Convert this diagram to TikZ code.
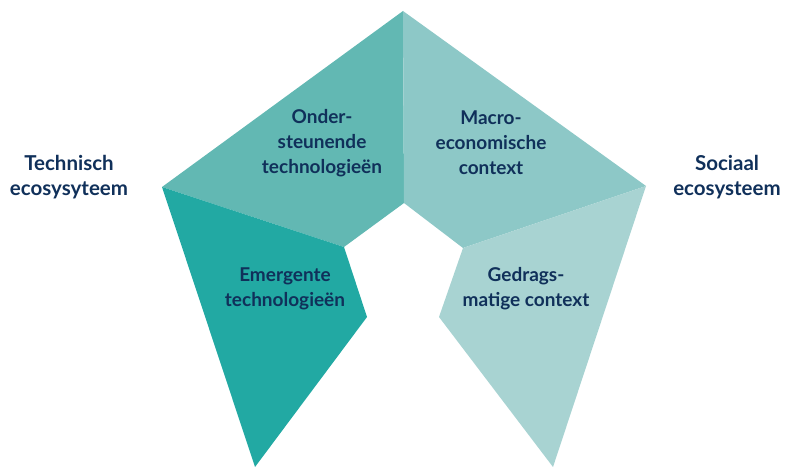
\documentclass[tikz,border=0pt]{standalone}
\usepackage{fontspec}
\setmainfont{Lato}
\definecolor{ulc}{HTML}{62B8B3}
\definecolor{llc}{HTML}{22A9A3}
\definecolor{urc}{HTML}{8DC8C7}
\definecolor{lrc}{HTML}{A8D3D2}
\definecolor{navy}{HTML}{10305A}
\begin{document}
\begin{tikzpicture}[x=1pt,y=-1pt,
  lbl/.style={align=center,text=navy,font=\bfseries\fontsize{19}{25}\selectfont,inner sep=0pt}]
\useasboundingbox (0,0) rectangle (791,468);
\coordinate (top) at (403,11);
\coordinate (L) at (162,187);
\coordinate (R) at (646,186);
\coordinate (C) at (404,203);
\coordinate (IL) at (344,247);
\coordinate (IR) at (463,248);
\coordinate (LR) at (367,317);
\coordinate (LB) at (255,467);
\coordinate (RL) at (439,317);
\coordinate (RB) at (553,467);
\fill[ulc] (top) -- (C) -- (IL) -- (L) -- cycle;
\fill[urc] (top) -- (R) -- (IR) -- (C) -- cycle;
\fill[llc] (L) -- (IL) -- (LR) -- (LB) -- cycle;
\fill[lrc] (R) -- (RB) -- (RL) -- (IR) -- cycle;
\node[lbl] (n1) at (322,143) {Onder-\\steunende\\technologieën};
\node[lbl] (n2) at (491,143) {Macro-\\economische\\context};
\node[lbl] (n3) at (285,288.5) {Emergente\\technologieën};
\node[lbl] (n4) at (526,288.5) {Gedrags-\\matige context};
\node[lbl,font=\bfseries\fontsize{20.5}{25}\selectfont] (n5) at (69,177.5) {Technisch\\ecosysyteem};
\node[lbl,font=\bfseries\fontsize{20.5}{25}\selectfont] (n6) at (727,177.5) {Sociaal\\ecosysteem};
\end{tikzpicture}
\end{document}
